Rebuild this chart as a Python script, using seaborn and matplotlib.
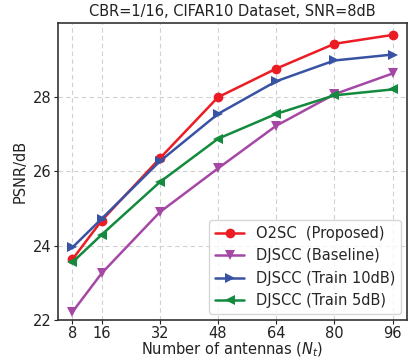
import numpy as np
import pandas as pd
import seaborn as sns
import matplotlib
matplotlib.use("Agg")
import matplotlib.pyplot as plt

# 数据
antennas = [8, 16, 32, 48, 64, 80, 96]
o2sc = [23.63, 24.67, 26.35, 28.0, 28.77, 29.44, 29.68]
djscc_base = [22.21, 23.25, 24.9, 26.08, 27.23, 28.08, 28.64]
djscc_10db = [23.95, 24.72, 26.27, 27.55, 28.43, 28.99, 29.15]
djscc_5db = [23.55, 24.29, 25.71, 26.88, 27.55, 28.05, 28.21]
labels = ["O2SC  (Proposed)", "DJSCC (Baseline)", "DJSCC (Train 10dB)", "DJSCC (Train 5dB)"]

colors = ["#ec1c24", "#a548a5", "#3953a4", "#138a3e"]
markers = ["o", "v", ">", "<"]

df = pd.DataFrame({
    "Nt": antennas * 4,
    "psnr": o2sc + djscc_base + djscc_10db + djscc_5db,
    "method": np.repeat(labels, len(antennas)),
})

sns.set_style("whitegrid", {"grid.linestyle": "--", "axes.edgecolor": "#333333"})
plt.rcParams["font.family"] = ["DejaVu Sans"]

fig = plt.figure(figsize=(4.08, 3.6), dpi=100)
ax = fig.add_axes([0.142, 0.112, 0.856, 0.824])

sns.lineplot(data=df, x="Nt", y="psnr", hue="method", style="method",
             palette=colors, markers=markers, dashes=False, markersize=7,
             linewidth=1.8, markeredgewidth=0, ax=ax)

ax.set_xlim(4, 100)
ax.set_ylim(22, 30)
ax.set_xticks(antennas)
ax.set_yticks([22, 24, 26, 28])
ax.tick_params(labelsize=10.5, colors="#222222", length=3, pad=1.5, left=True, bottom=True)
ax.set_xlabel("Number of antennas ($N_t$)", fontsize=10.5, color="#222222", labelpad=0)
ax.set_ylabel("PSNR/dB", fontsize=10.5, color="#222222", labelpad=4)
ax.set_title("CBR=1/16, CIFAR10 Dataset, SNR=8dB", fontsize=10.5, color="#222222", pad=5)
for s in ax.spines.values():
    s.set_linewidth(1.2)
ax.grid(color="#d0d0d0", linewidth=0.8, dashes=(4, 3))

leg = ax.legend(loc="lower right", fontsize=10.5, frameon=True, handlelength=2.0,
                borderaxespad=0.4)
leg.get_frame().set_edgecolor("#cccccc")

fig.savefig("out.png", dpi=100)
